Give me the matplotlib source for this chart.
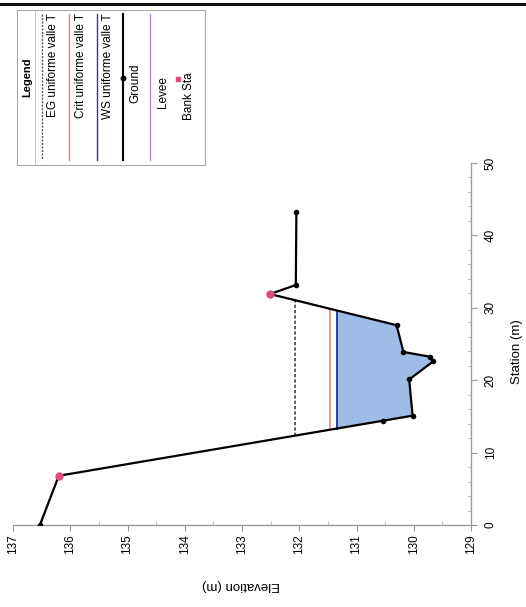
import numpy as np
import matplotlib
matplotlib.use('Agg')
import matplotlib.pyplot as plt
from matplotlib.lines import Line2D
from matplotlib.patches import Rectangle

plt.rcParams['font.family'] = ['Liberation Sans', 'DejaVu Sans']

# cross section (station m, elevation m)
station = [0.0, 6.8, 14.4, 15.1, 20.1, 22.6, 23.25, 23.9, 27.6, 31.9, 33.15, 43.3]
elev = [136.53, 136.2, 130.54, 130.02, 130.08, 129.66, 129.72, 130.18, 130.3, 132.51, 132.06, 132.05]
bank_sta = [6.8, 31.9]

ws = 131.34
crit = 131.46
eg = 132.07

elev_ticks = [137, 136, 135, 134, 133, 132, 131, 130, 129]
sta_ticks = [0, 10, 20, 30, 40, 50]

W, H = 526, 607


def fx(x):
    return x / W


def fy(y):
    return 1 - y / H


def crossings(h):
    # wet edges either side of the lowest point
    st = np.array(station)
    el = np.array(elev)
    imin = np.argmin(el)
    left = right = None
    for i in range(imin, 0, -1):
        if el[i - 1] >= h > el[i] or el[i - 1] > h >= el[i]:
            left = st[i - 1] + (el[i - 1] - h) / (el[i - 1] - el[i]) * (st[i] - st[i - 1])
            break
    for i in range(imin, len(st) - 1):
        if el[i + 1] >= h > el[i] or el[i + 1] > h >= el[i]:
            right = st[i] + (h - el[i]) / (el[i + 1] - el[i]) * (st[i + 1] - st[i])
            break
    return left, right


fig = plt.figure(figsize=(W / 100, H / 100), dpi=100)
ax = fig.add_axes([fx(13), fy(525), fx(471) - fx(13), fy(163) - fy(525)])

# the page is scanned on its side: elevation runs across, station runs up
st = np.array(station)
el = np.array(elev)

l, r = crossings(ws)
mask = (st > l) & (st < r)
st_w = np.concatenate([[l], st[mask], [r]])
el_w = np.concatenate([[ws], el[mask], [ws]])
ax.fill_betweenx(st_w, el_w, ws, color='#9dbde6', lw=0, zorder=1)
ax.plot([ws, ws], [l, r], color='#2b3c9e', lw=1.4, zorder=2)

l, r = crossings(crit)
ax.plot([crit, crit], [l, r], color='#e58a78', lw=1.2, zorder=2)

l, r = crossings(eg)
ax.plot([eg, eg], [l, r], color='#444444', lw=1.2, ls=(0, (2, 1.2)), zorder=2)

ax.plot(el, st, color='black', lw=1.6, marker='o', ms=3.0, zorder=3)
ax.plot(np.interp(bank_sta, st, el), bank_sta, ls='none', marker='o', ms=5,
        color='#e04a80', zorder=4)

ax.set_xlim(137, 129)
ax.set_ylim(0, 50)
ax.set_xticks(elev_ticks)
ax.set_yticks(sta_ticks)
ax.set_xticks(np.arange(129, 137, 0.5), minor=True)
ax.set_yticks(np.arange(0, 50, 2), minor=True)
ax.yaxis.tick_right()
for s in ['top', 'left']:
    ax.spines[s].set_visible(False)
for s in ['bottom', 'right']:
    ax.spines[s].set_color('#999999')
    ax.spines[s].set_linewidth(1.0)
ax.tick_params(which='major', direction='out', length=4, color='#999999',
               labelsize=8.5, labelrotation=90, pad=3)
ax.tick_params(which='minor', direction='in', length=3, color='#bbbbbb')
ax.tick_params(axis='y', labelrotation=90, pad=6)
for t in ax.get_yticklabels():
    t.set_va('center')
ax.patch.set_alpha(0)

fig.text(fx(241), fy(585), 'Elevation (m)', rotation=180, fontsize=9.5,
         ha='center', va='center')
fig.text(fx(517), fy(352), 'Station (m)', rotation=90, fontsize=9.5,
         ha='center', va='center')

# legend box drawn sideways
fig.add_artist(Rectangle((fx(17), fy(165)), fx(205) - fx(17), fy(10) - fy(165),
                         transform=fig.transFigure, fill=False,
                         edgecolor='#aaaaaa', lw=0.8))
fig.add_artist(Line2D([fx(35), fx(35)], [fy(10), fy(165)], transform=fig.transFigure,
                      color='#bbbbbb', lw=0.6))
fig.text(fx(27), fy(77), 'Legend', rotation=90, fontsize=8, fontweight='bold',
         ha='center', va='center')

entries = [
    ('EG uniforme valle T', 42, 53, dict(color='#555555', ls=(0, (1.5, 1))), 13),
    ('Crit uniforme valle T', 69, 81, dict(color='#e58a78'), 13),
    ('WS uniforme valle T', 97, 108, dict(color='#2b3c9e'), 13),
]
for txt, xl, xt, style, top in entries:
    fig.add_artist(Line2D([fx(xl), fx(xl)], [fy(14), fy(160)],
                          transform=fig.transFigure, lw=1.0, **style))
    fig.text(fx(xt), fy(top), txt, rotation=90, fontsize=8.5,
             ha='center', va='top')

fig.add_artist(Line2D([fx(123), fx(123)], [fy(14), fy(160)], transform=fig.transFigure,
                      color='black', lw=1.5))
fig.add_artist(Line2D([fx(123)], [fy(78)], transform=fig.transFigure,
                      color='black', marker='o', ms=3.2))
fig.text(fx(135), fy(83), 'Ground', rotation=90, fontsize=8.5, ha='center', va='center')

fig.add_artist(Line2D([fx(150), fx(150)], [fy(14), fy(160)], transform=fig.transFigure,
                      color='#b58ad6', lw=1.0))
fig.text(fx(163), fy(92), 'Levee', rotation=90, fontsize=8.5, ha='center', va='center')
fig.add_artist(Line2D([fx(178)], [fy(79)], transform=fig.transFigure,
                      color='#e04a80', marker='s', ms=3.5, ls='none'))
fig.text(fx(189), fy(96), 'Bank Sta', rotation=90, fontsize=8.5, ha='center', va='center')

# dark edge of the scanned page
fig.add_artist(Line2D([0, 1], [fy(3.5), fy(3.5)], transform=fig.transFigure,
                      color='#111111', lw=2.2))

fig.savefig('out.png', dpi=100)
